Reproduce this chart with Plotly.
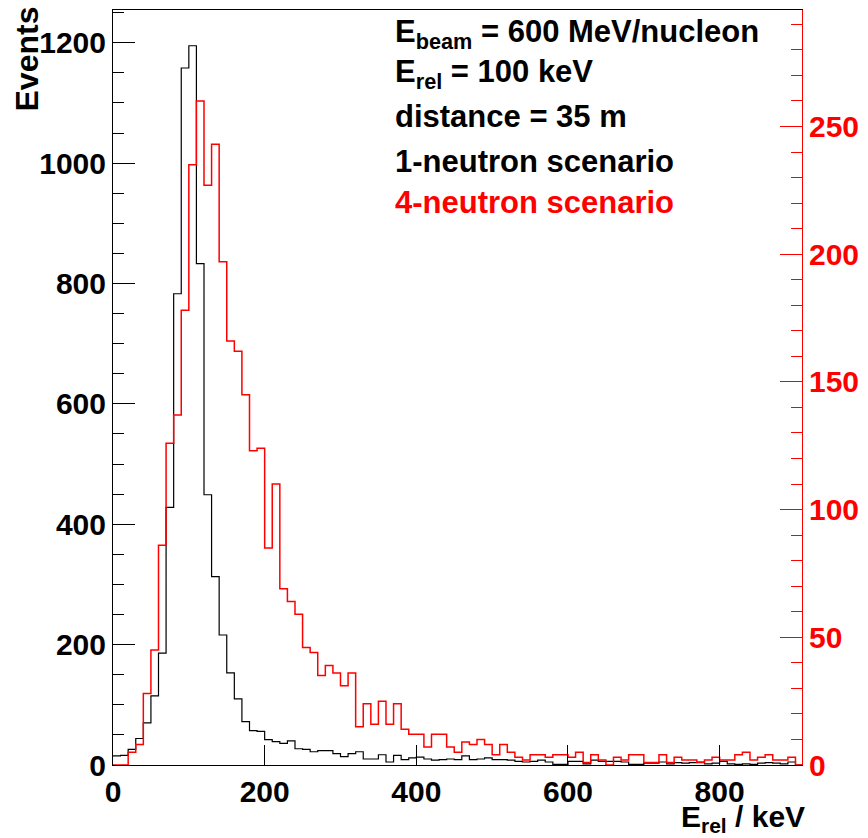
import numpy as np
import plotly.graph_objects as go

# ---------------- data ----------------
bin_width_kev = 10
one_neutron = [15, 16, 26, 44, 70, 115, 186, 428, 783, 1158,
               1195, 833, 449, 313, 216, 153, 110, 72, 57, 56,
               42, 39, 36, 40, 27, 26, 22, 24, 24, 19,
               14, 19, 22, 10, 10, 17, 5, 16, 9, 12,
               13, 10, 8, 9, 10, 9, 15, 9, 10, 12,
               9, 9, 8, 6, 5, 6, 8, 5, 1, 1,
               6, 6, 2, 8, 6, 6, 6, 5, 1, 1,
               3, 3, 5, 2, 4, 3, 4, 5, 2, 3,
               6, 2, 1, 2, 1, 3, 4, 3, 2, 5,
               0]
four_neutron = [0, 0, 5, 8, 28, 45, 86, 126, 137, 178,
                235, 260, 227, 243, 197, 166, 162, 145, 123, 124,
                85, 110, 69, 64, 59, 46, 44, 35, 39, 36,
                31, 36, 15, 24, 16, 25, 16, 24, 14, 12,
                12, 7, 12, 12, 7, 5, 9, 8, 10, 8,
                4, 8, 5, 3, 2, 4, 4, 3, 4, 4,
                3, 5, 1, 4, 2, 0, 3, 2, 4, 4,
                1, 1, 4, 1, 3, 2, 2, 1, 2, 3,
                2, 2, 4, 5, 2, 3, 4, 2, 2, 3,
                0]
x_range = [0, 908.6]
y_left_range = [0, 1254.4]
y_right_range = [0, 295.6]
x_ticks = [0, 200, 400, 600, 800]
text_lines = ["E<sub>beam</sub> = 600 MeV/nucleon",
              "E<sub>rel</sub> = 100 keV",
              "distance = 35 m",
              "1-neutron scenario",
              "4-neutron scenario"]
text_colors = ["black", "black", "black", "black", "red"]

# ---------------- figure ----------------
W, H = 868, 838
L, R, T, B = 113, 58, 9, 73
pw, ph = W - L - R, H - T - B

def px_x(px):
    return (px - L) / pw

def px_y(py):
    return (H - B - py) / ph

edges = (np.arange(len(one_neutron) + 1) * bin_width_kev).tolist()
FONT = "Liberation Sans"

fig = go.Figure()
fig.add_trace(go.Scatter(x=edges, y=one_neutron + [one_neutron[-1]], mode="lines",
                         line=dict(color="black", width=1.2, shape="hv"),
                         yaxis="y", showlegend=False, hoverinfo="skip"))
fig.add_trace(go.Scatter(x=edges, y=four_neutron + [four_neutron[-1]], mode="lines",
                         line=dict(color="red", width=1.5, shape="hv"),
                         yaxis="y2", showlegend=False, hoverinfo="skip"))

tickfont = dict(family=FONT, size=30, color="black", weight="bold")

fig.update_layout(
    width=W, height=H,
    margin=dict(l=L, r=R, t=T, b=B, pad=0),
    plot_bgcolor="white", paper_bgcolor="white",
    xaxis=dict(range=x_range, showline=True, linecolor="black", linewidth=1,
               mirror=True, ticks="inside", ticklen=20, tickcolor="black",
               tickvals=x_ticks, tickfont=tickfont, showgrid=False,
               zeroline=False),
    yaxis=dict(range=y_left_range, showline=True, linecolor="black", linewidth=1,
               ticks="inside", ticklen=22, tickcolor="black", dtick=200,
               minor=dict(dtick=50, ticklen=11, ticks="inside", tickcolor="black",
                          showgrid=False),
               tickfont=tickfont, showgrid=False, zeroline=False),
    yaxis2=dict(range=y_right_range, overlaying="y", side="right", showline=True,
                linecolor="red", linewidth=1, ticks="inside", ticklen=22,
                tickcolor="red", dtick=50,
                minor=dict(dtick=10, ticklen=11, ticks="inside", tickcolor="red",
                           showgrid=False),
                tickfont=dict(family=FONT, size=30, color="red", weight="bold"),
                showgrid=False, zeroline=False),
)

line_y = [33, 73, 116, 161, 202]
for txt, col, yy in zip(text_lines, text_colors, line_y):
    fig.add_annotation(text=txt, xref="paper", yref="paper", x=px_x(396),
                       y=px_y(yy), xanchor="left", yanchor="middle",
                       showarrow=False,
                       font=dict(family=FONT, size=31, color=col, weight="bold"))

fig.add_annotation(text="Events", xref="paper", yref="paper", x=px_x(26),
                   y=px_y(3), xanchor="center", yanchor="top", textangle=-90,
                   showarrow=False,
                   font=dict(family=FONT, size=32, color="black", weight="bold"))
fig.add_annotation(text="E<sub>rel</sub> / keV", xref="paper", yref="paper",
                   x=px_x(815), y=px_y(819), xanchor="right", yanchor="middle",
                   showarrow=False,
                   font=dict(family=FONT, size=30, color="black", weight="bold"))

fig.write_html("out.html")
